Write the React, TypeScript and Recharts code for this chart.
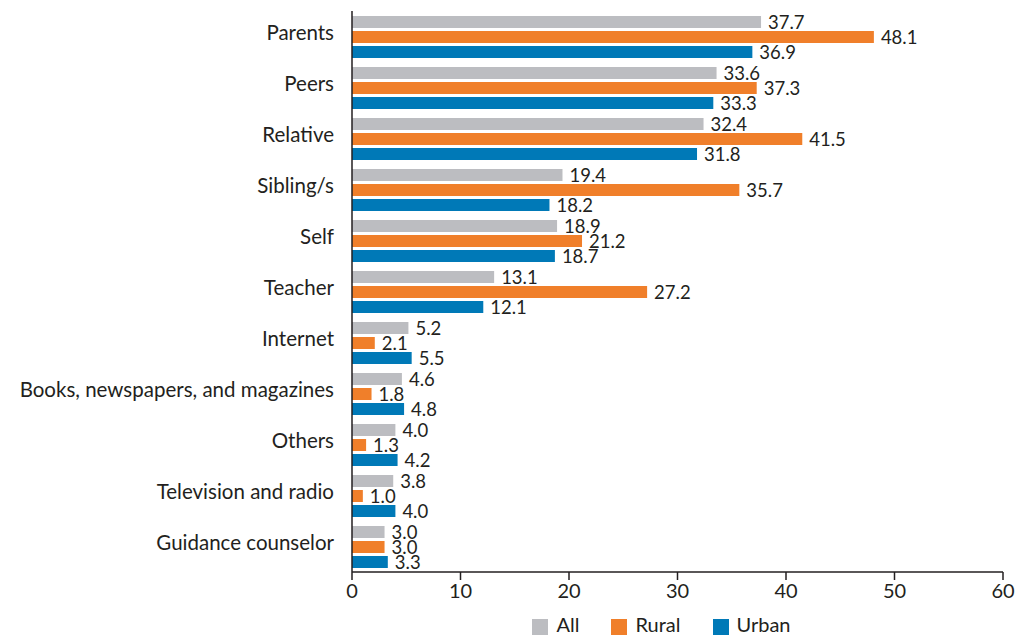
import React from "react";
import { BarChart, Bar, XAxis, YAxis, Legend, LabelList } from "recharts";

const categories = [
  "Parents",
  "Peers",
  "Relative",
  "Sibling/s",
  "Self",
  "Teacher",
  "Internet",
  "Books, newspapers, and magazines",
  "Others",
  "Television and radio",
  "Guidance counselor",
];
const allValues = [37.7, 33.6, 32.4, 19.4, 18.9, 13.1, 5.2, 4.6, 4.0, 3.8, 3.0];
const ruralValues = [48.1, 37.3, 41.5, 35.7, 21.2, 27.2, 2.1, 1.8, 1.3, 1.0, 3.0];
const urbanValues = [36.9, 33.3, 31.8, 18.2, 18.7, 12.1, 5.5, 4.8, 4.2, 4.0, 3.3];
const xTicks = [0, 10, 20, 30, 40, 50, 60];

const data = categories.map((name, i) => ({
  name,
  All: allValues[i],
  Rural: ruralValues[i],
  Urban: urbanValues[i],
}));

const FONT = "Lato, 'Open Sans', sans-serif";
const TEXT = "#231f20";
const fmt = (v: number) => v.toFixed(1);

const CategoryTick = (props: any) => {
  const { x, y, payload } = props;
  return (
    <text x={x} y={y - 5} textAnchor="end" dominantBaseline="central" fill={TEXT} fontSize={20.5} fontFamily={FONT}>
      {payload.value}
    </text>
  );
};

const labelStyle = { fill: TEXT, fontSize: 18.5, fontFamily: FONT };

export default function App() {
  return (
    <div style={{ position: "absolute", left: 0, top: 0, fontFamily: FONT }}>
      <BarChart
        width={1020}
        height={636}
        data={data}
        layout="vertical"
        margin={{ top: 11, right: 17, bottom: 0, left: 0 }}
        barSize={12}
        barGap={3}
      >
        <XAxis
          type="number"
          domain={[0, 60]}
          ticks={xTicks}
          axisLine={{ stroke: TEXT, strokeWidth: 1.5 }}
          tickLine={{ stroke: TEXT, strokeWidth: 1.5 }}
          tickSize={8}
          tickMargin={4}
          tick={{ fill: TEXT, fontSize: 20, fontFamily: FONT }}
          height={40}
        />
        <YAxis
          type="category"
          dataKey="name"
          width={352}
          axisLine={{ stroke: TEXT, strokeWidth: 1.5 }}
          tickLine={false}
          tickMargin={12}
          interval={0}
          tick={<CategoryTick />}
        />
        <Legend
          verticalAlign="bottom"
          align="center"
          iconType="square"
          iconSize={16}
          height={24}
          wrapperStyle={{ fontSize: 20, fontFamily: FONT, left: 352, width: 651 }}
          formatter={(value: string) => (
            <span style={{ color: TEXT, marginRight: 22, marginLeft: 4 }}>{value}</span>
          )}
        />
        <Bar dataKey="All" fill="#bcbdc1" isAnimationActive={false}>
          <LabelList dataKey="All" position="right" offset={7} formatter={fmt} style={labelStyle} />
        </Bar>
        <Bar dataKey="Rural" fill="#f07f2a" isAnimationActive={false}>
          <LabelList dataKey="Rural" position="right" offset={7} formatter={fmt} style={labelStyle} />
        </Bar>
        <Bar dataKey="Urban" fill="#0079b7" isAnimationActive={false}>
          <LabelList dataKey="Urban" position="right" offset={7} formatter={fmt} style={labelStyle} />
        </Bar>
      </BarChart>
    </div>
  );
}
